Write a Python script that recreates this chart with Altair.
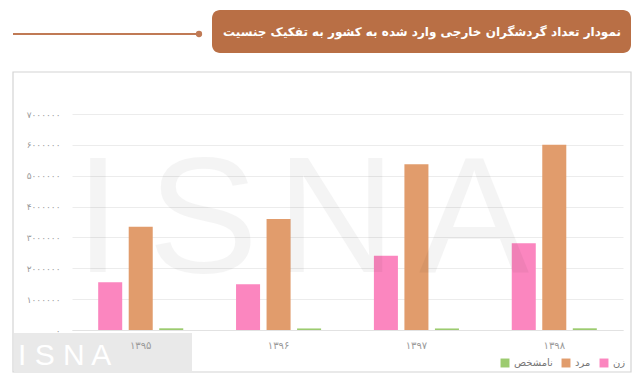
import altair as alt
import pandas as pd

# ---- data ----
years = ["۱۳۹۵", "۱۳۹۶", "۱۳۹۷", "۱۳۹۸"]
series = ["زن", "مرد", "نامشخص"]
female = [1550000, 1480000, 2410000, 2810000]
male = [3350000, 3600000, 5370000, 6000000]
unknown = [55000, 50000, 50000, 55000]
y_ticks = [0, 1000000, 2000000, 3000000, 4000000, 5000000, 6000000, 7000000]
legend_order = ["نامشخص", "مرد", "زن"]
colors = {"زن": "#FB86BF", "مرد": "#E19C6C", "نامشخص": "#9CCB6F"}
title_text = "نمودار تعداد گردشگران خارجی وارد شده به کشور به تفکیک جنسیت"
watermark = ["I", "S", "N", "A"]

rows = []
for i, yr in enumerate(years):
    for s, vals in zip(series, [female, male, unknown]):
        rows.append({"year": yr, "series": s, "value": vals[i]})
df = pd.DataFrame(rows)

W, H = 551, 216
PAD = {"left": 64, "top": 106, "right": 9, "bottom": 43}
FONT = "DejaVu Sans"

fa = str.maketrans("0123456789", "۰۱۲۳۴۵۶۷۸۹")
expr = "''"
for t in reversed(y_ticks):
    expr = f"datum.value == {t} ? '{str(t).translate(fa)}' : ({expr})"

one = pd.DataFrame({"a": [0]})

frame = alt.Chart(one).mark_rect(fill="white", fillOpacity=0, stroke="#d4d4d4", strokeWidth=1.2).encode(
    x=alt.value(-59), x2=alt.value(559), y=alt.value(-42), y2=alt.value(258))

header_line = alt.Chart(one).mark_rule(color="#C07A55", strokeWidth=2).encode(
    x=alt.value(-59), x2=alt.value(127), y=alt.value(-80))
header_dot = alt.Chart(one).mark_circle(color="#C07A55", opacity=1, size=40).encode(
    x=alt.value(127), y=alt.value(-80))
header_box = alt.Chart(one).mark_rect(fill="#B96F45", cornerRadius=8).encode(
    x=alt.value(140), x2=alt.value(559), y=alt.value(-104), y2=alt.value(-61))
header_text = alt.Chart(one).mark_text(
    text=title_text, color="white", font=FONT, fontSize=12, fontWeight="bold",
    align="center", baseline="middle").encode(x=alt.value(350), y=alt.value(-82))

isna_box = alt.Chart(one).mark_rect(fill="#e9e9e9").encode(
    x=alt.value(-58), x2=alt.value(120), y=alt.value(219), y2=alt.value(258))
isna_text = alt.Chart(one).mark_text(
    text="I S N A", color="white", font="Liberation Sans", fontSize=30,
    align="left", baseline="middle").encode(x=alt.value(-54), y=alt.value(242))

bars = alt.Chart(df).mark_bar().encode(
    x=alt.X("year:N", sort=years,
            scale=alt.Scale(paddingInner=0.383, paddingOuter=0.19),
            axis=alt.Axis(title=None, labelAngle=0, ticks=False, domainColor="#e2e2e2",
                          labelColor="#9a9a9a", labelFontSize=10, labelPadding=10,
                          labelFont=FONT, zindex=1)),
    xOffset=alt.XOffset("series:N", sort=series,
                        scale=alt.Scale(paddingInner=0.213, paddingOuter=0)),
    y=alt.Y("value:Q", scale=alt.Scale(domain=[0, 7000000], nice=False),
            axis=alt.Axis(title=None, values=y_ticks, labelExpr=expr, ticks=False,
                          domain=False, gridColor="#ececec", labelColor="#9a9a9a",
                          labelFontSize=9, labelPadding=12, labelFont=FONT)),
    color=alt.Color("series:N",
                    scale=alt.Scale(domain=legend_order, range=[colors[s] for s in legend_order]),
                    legend=alt.Legend(title=None, orient="none", legendX=428, legendY=244,
                                      direction="horizontal", symbolType="square",
                                      symbolSize=80, symbolStrokeWidth=0,
                                      labelFontSize=10, labelColor="#777", labelFont=FONT,
                                      columnPadding=8, labelOffset=4)),
)

wm_df = pd.DataFrame({"letter": watermark, "px": [26, 131, 264, 402]})
wm = alt.Chart(wm_df).mark_text(
    font="Liberation Sans", fontSize=165, color="#000000", opacity=0.04,
    align="center", baseline="alphabetic").encode(
    text="letter:N", x=alt.X("px:Q", scale=None), y=alt.value(158))

chart = alt.layer(
    frame, header_line, header_dot, header_box, header_text,
    bars, wm, isna_box, isna_text
).properties(
    width=W, height=H, padding=PAD, autosize="none", background="white"
).configure_view(stroke=None)

chart.save("out.html", embed_options={"renderer": "svg", "actions": False})
